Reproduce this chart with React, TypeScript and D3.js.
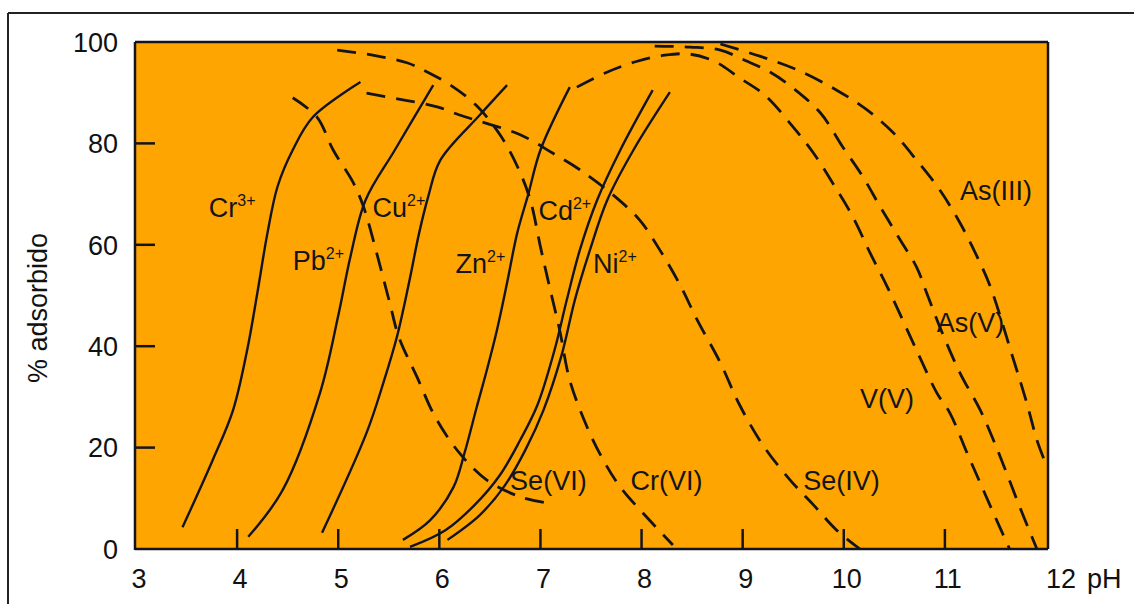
import React from 'react';
import * as d3 from 'd3';

// pH axis and % adsorbed axis
const phTicks = [3, 4, 5, 6, 7, 8, 9, 10, 11, 12];
const pctTicks = [0, 20, 40, 60, 80, 100];

// cations (solid lines) : [pH, % adsorbed]
const cr3 = [[3.46, 4.3], [3.76, 17.6], [3.96, 27.4], [4.10, 39.3], [4.20, 50.5], [4.30, 62.3], [4.40, 71.5], [4.55, 78.7], [4.75, 85.2], [5.22, 92.1]];
const pb2 = [[4.11, 2.4], [4.45, 11.6], [4.82, 30.8], [5.00, 46.0], [5.12, 57.6], [5.27, 68.8], [5.56, 78.7], [5.94, 91.5]];
const cu2 = [[4.84, 3.2], [5.28, 22.9], [5.45, 33.0], [5.58, 41.8], [5.70, 52.5], [5.80, 62.3], [5.89, 69.5], [6.01, 76.7], [6.40, 85.6], [6.67, 91.5]];
const zn2 = [[5.64, 1.8], [5.91, 5.7], [6.14, 12.2], [6.25, 19.0], [6.37, 28.0], [6.47, 35.3], [6.57, 43.2], [6.67, 52.5], [6.77, 62.3], [6.88, 70.0], [7.00, 78.7], [7.29, 91.1]];
const cd2 = [[5.71, 0.4], [6.06, 3.7], [6.35, 8.7], [6.60, 14.6], [6.80, 21.5], [6.97, 28.4], [7.14, 39.3], [7.26, 49.1], [7.39, 59.0], [7.56, 68.8], [7.79, 78.7], [8.11, 90.5]];
const ni2 = [[6.08, 1.8], [6.40, 6.7], [6.65, 12.6], [6.85, 19.5], [7.03, 27.4], [7.21, 38.3], [7.34, 49.1], [7.49, 59.0], [7.66, 68.8], [7.92, 78.7], [8.28, 90.1]];

// anions (dashed lines)
const se6 = [[4.55, 89.0], [4.79, 85.2], [4.95, 78.7], [5.15, 72.2], [5.25, 67.5], [5.38, 58.4], [5.51, 48.5], [5.60, 41.8], [5.78, 33.9], [5.96, 26.0], [6.20, 18.9], [6.47, 13.6], [6.80, 10.3], [7.06, 9.1]];
const cr6 = [[4.99, 98.4], [5.34, 97.4], [5.68, 95.9], [5.88, 94.1], [6.11, 91.5], [6.36, 87.6], [6.60, 81.7], [6.78, 75.1], [6.90, 68.8], [7.00, 59.6], [7.09, 51.7], [7.19, 43.2], [7.29, 33.3], [7.46, 24.1], [7.62, 17.6], [7.79, 12.2], [8.05, 6.3], [8.31, 0.8]];
const se4 = [[5.28, 89.9], [5.64, 88.6], [5.98, 87.2], [6.20, 85.6], [6.80, 81.7], [7.12, 78.1], [7.39, 74.8], [7.72, 69.8], [7.98, 64.9], [8.18, 59.0], [8.38, 52.1], [8.55, 45.2], [8.78, 36.7], [8.97, 28.4], [9.20, 20.5], [9.47, 13.6], [9.70, 8.7], [9.93, 3.7], [10.16, 0]];
const v5 = [[7.36, 91.1], [7.64, 93.9], [7.94, 96.1], [8.23, 97.4], [8.48, 97.6], [8.73, 96.1], [8.97, 92.9], [9.22, 89.5], [9.50, 83.2], [9.70, 78.1], [9.89, 72.2], [10.09, 65.5], [10.26, 58.4], [10.43, 51.7], [10.75, 37.9], [10.92, 30.8], [11.05, 26.8], [11.22, 18.9], [11.35, 13.0], [11.48, 7.1], [11.64, 0]];
const as5 = [[8.13, 99.2], [8.48, 99.0], [8.78, 98.4], [9.02, 96.4], [9.27, 94.1], [9.50, 90.9], [9.77, 86.0], [9.99, 79.3], [10.19, 73.4], [10.36, 67.5], [10.56, 60.9], [10.72, 55.6], [10.82, 50.5], [10.95, 43.8], [11.15, 34.7], [11.35, 27.4], [11.48, 21.5], [11.61, 15.0], [11.74, 8.3], [11.91, 0]];
const as3 = [[8.78, 99.6], [9.17, 97.2], [9.54, 94.5], [9.93, 90.5], [10.23, 86.6], [10.49, 82.1], [10.72, 76.7], [10.95, 70.8], [11.15, 64.3], [11.32, 57.6], [11.45, 51.7], [11.67, 37.9], [11.81, 28.8], [11.91, 21.5], [11.99, 17.2]];

const solidSeries = [cr3, pb2, cu2, zn2, cd2, ni2];
const dashedSeries = [se6, cr6, se4, v5, as5, as3];

const ionNames = ['Cr', 'Pb', 'Cu', 'Zn', 'Cd', 'Ni'];
const ionCharges = ['3+', '2+', '2+', '2+', '2+', '2+'];
const anionNames = ['Se(VI)', 'Cr(VI)', 'Se(IV)', 'V(V)', 'As(V)', 'As(III)'];

export default function App() {
  const font = '"Liberation Sans", Arial, sans-serif';
  const ink = '#14141c';
  const x = d3.scaleLinear().domain([3, 12]).range([136, 1046]);
  const y = d3.scaleLinear().domain([0, 100]).range([549, 42]);
  const line = d3.line<number[]>()
    .x(d => x(d[0]))
    .y(d => y(d[1]))
    .curve(d3.curveCatmullRom.alpha(0.5));

  // where the curve names sit (left end, baseline), in pH / %
  const ionLabelAt = [[3.72, 65.5], [4.55, 55.0], [5.34, 65.5], [6.16, 54.4], [6.98, 64.9], [7.52, 54.4]];
  const anionLabelAt = [[6.70, 11.6], [7.89, 11.6], [9.60, 11.6], [10.16, 27.8], [10.92, 42.8], [11.15, 68.8]];

  const left = x(3) - 1, right = x(12) + 2, top = y(100), bottom = y(0);

  return (
    <svg width={1134} height={604} style={{ position: 'absolute', left: 0, top: 0, background: '#fff' }}
      fontFamily={font}>
      {/* outer frame of the picture */}
      <line x1={8} y1={13} x2={1134} y2={13} stroke="#222" strokeWidth={2} />
      <line x1={8} y1={13} x2={8} y2={604} stroke="#222" strokeWidth={2} />

      <rect x={left} y={top} width={right - left} height={bottom - top} fill="#FFA502" />

      {solidSeries.map((s, i) => (
        <path key={'s' + i} d={line(s) || ''} fill="none" stroke={ink} strokeWidth={2.4} />
      ))}
      {dashedSeries.map((s, i) => (
        <path key={'d' + i} d={line(s) || ''} fill="none" stroke={ink} strokeWidth={2.8}
          strokeDasharray="19 11" />
      ))}

      {/* axes */}
      <line x1={left} y1={top} x2={right} y2={top} stroke={ink} strokeWidth={2.5} />
      <line x1={right} y1={top} x2={right} y2={bottom} stroke={ink} strokeWidth={2.5} />
      <line x1={left} y1={top} x2={left} y2={bottom + 1} stroke={ink} strokeWidth={2.5} />
      <line x1={left} y1={bottom} x2={right} y2={bottom} stroke={ink} strokeWidth={2.5} />

      {pctTicks.map(t => (
        <g key={'y' + t}>
          {t > 0 && t < 100 && <line x1={left} x2={left + 20} y1={y(t)} y2={y(t)} stroke={ink} strokeWidth={2.5} />}
          <text x={118} y={y(t)} dy="0.36em" textAnchor="end" fontSize={27} fill="#111">{t}</text>
        </g>
      ))}
      {phTicks.map(t => (
        <g key={'x' + t}>
          {t > 3 && t < 12 && <line x1={x(t)} x2={x(t)} y1={bottom} y2={bottom - 20} stroke={ink} strokeWidth={2.5} />}
          <text x={t === 12 ? x(t) + 15 : x(t) + 3} y={588} textAnchor="middle" fontSize={27} fill="#111">{t}</text>
        </g>
      ))}
      <text x={1087} y={588} fontSize={27} fill="#111">pH</text>
      <text transform="translate(47,308) rotate(-90)" textAnchor="middle" fontSize={27} fill="#111">% adsorbido</text>

      {ionNames.map((n, i) => (
        <text key={'l' + n} x={x(ionLabelAt[i][0])} y={y(ionLabelAt[i][1])} fontSize={27} fill={ink}>
          {n}<tspan fontSize={16} dy={-11}>{ionCharges[i]}</tspan>
        </text>
      ))}
      {anionNames.map((n, i) => (
        <text key={'a' + n} x={x(anionLabelAt[i][0])} y={y(anionLabelAt[i][1])} fontSize={27} fill={ink}>{n}</text>
      ))}
    </svg>
  );
}
